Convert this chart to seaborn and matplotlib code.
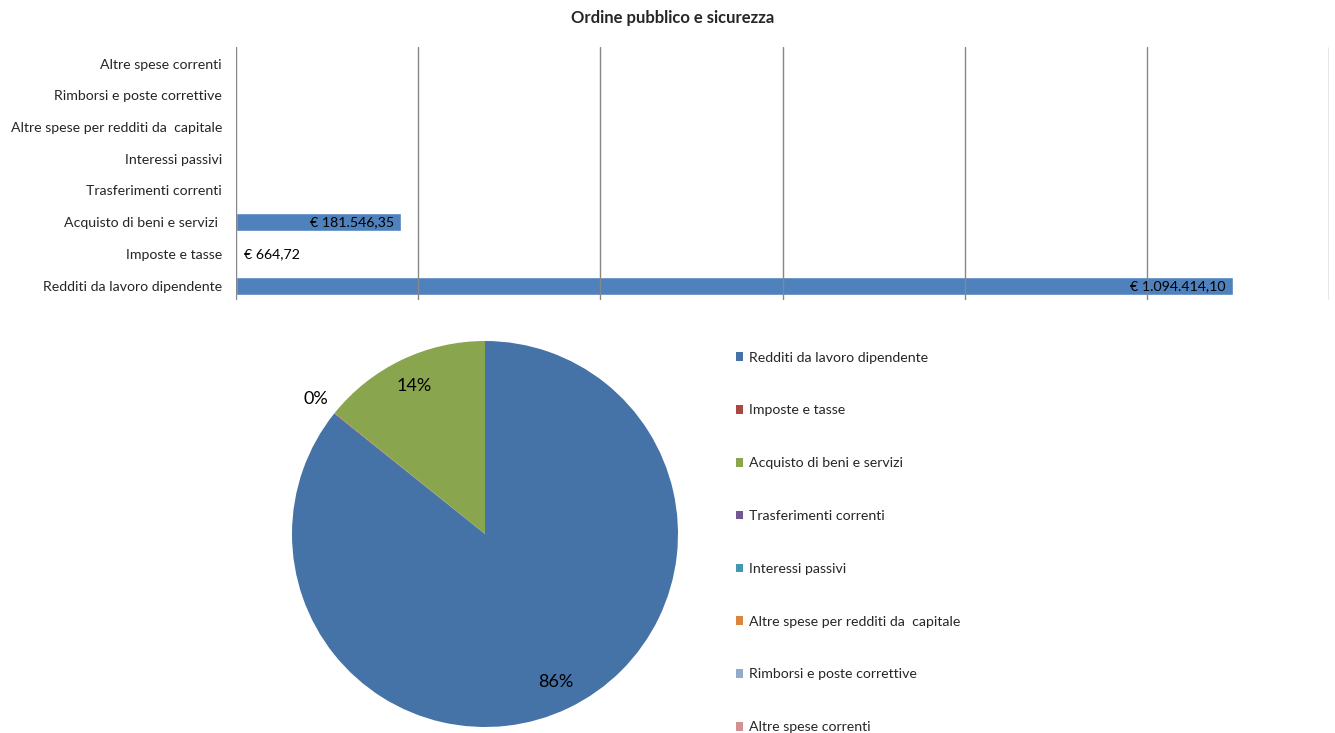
import matplotlib
matplotlib.use("Agg")
import matplotlib.pyplot as plt
import seaborn as sns
import pandas as pd
import numpy as np

# Spending categories, listed top-to-bottom as in the bar panel
categories = [
    "Altre spese correnti",
    "Rimborsi e poste correttive",
    "Altre spese per redditi da  capitale",
    "Interessi passivi",
    "Trasferimenti correnti",
    "Acquisto di beni e servizi ",
    "Imposte e tasse",
    "Redditi da lavoro dipendente",
]
values = [0.0, 0.0, 0.0, 0.0, 0.0, 181546.35, 664.72, 1094414.10]

# Pie / legend order
pie_categories = [
    "Redditi da lavoro dipendente",
    "Imposte e tasse",
    "Acquisto di beni e servizi",
    "Trasferimenti correnti",
    "Interessi passivi",
    "Altre spese per redditi da  capitale",
    "Rimborsi e poste correttive",
    "Altre spese correnti",
]
pie_values = [1094414.10, 664.72, 181546.35, 0.0, 0.0, 0.0, 0.0, 0.0]
pie_colors = ["#4572A7", "#AA4643", "#89A54E", "#71588F",
              "#4198AF", "#DB843D", "#93A9CF", "#D19392"]

title = "Ordine pubblico e sicurezza"
bar_color = "#4F81BD"

sns.set_style("white")
plt.rcParams["font.family"] = ["Lato", "DejaVu Sans"]
FS = 10.2

W, H = 1335, 733
fig = plt.figure(figsize=(W / 100, H / 100), dpi=100)

def frac(x0, y0, x1, y1):
    return [x0 / W, 1 - y1 / H, (x1 - x0) / W, (y1 - y0) / H]

# ---- horizontal bar panel ----
ax = fig.add_axes(frac(236, 47, 1329, 300))
df = pd.DataFrame({"cat": categories, "val": values})
sns.barplot(data=df, y="cat", x="val", orient="h", color=bar_color,
            saturation=1, width=0.56, ax=ax)
ax.set_xlim(0, 1_200_000)
ax.set_ylim(7.45, -0.52)
ax.set_xticks(np.arange(0, 1_200_001, 200_000))
ax.set_xticklabels([])
ax.grid(axis="x", color="#878787", linewidth=1.0)
ax.grid(axis="y", visible=False)
ax.set_axisbelow(False)
for s in ax.spines.values():
    s.set_visible(False)
ax.tick_params(axis="both", length=0)
ax.tick_params(axis="y", labelsize=FS, pad=10)
ax.set_xlabel("")
ax.set_ylabel("")


def euro(v):
    s = f"{v:,.2f}"
    s = s.replace(",", "X").replace(".", ",").replace("X", ".")
    return "€ " + s

for i, v in enumerate(values):
    if v <= 0:
        continue
    if v > 50_000:
        ax.text(v - 8000, i, euro(v), ha="right", va="center",
                fontsize=FS, color="black")
    else:
        ax.text(v + 8000, i, euro(v), ha="left", va="center",
                fontsize=FS, color="black")

fig.text(673 / W, 1 - 18 / H, title, ha="center", va="center",
         fontsize=12, fontweight="bold")

# ---- pie panel ----
r = 193
pax = fig.add_axes(frac(485 - r, 534 - r, 485 + r, 534 + r))
wedges, texts, autotexts = pax.pie(
    pie_values, colors=pie_colors, startangle=90, counterclock=False,
    autopct="%1.0f%%", pctdistance=0.85, radius=1.0,
    wedgeprops=dict(linewidth=0),
    textprops=dict(fontsize=13, color="black"))
pax.set_xlim(-1, 1)
pax.set_ylim(-1, 1)
pax.set_aspect("equal")
total = sum(pie_values)
for t, v in zip(autotexts, pie_values):
    if v == 0:
        t.set_visible(False)
    elif v / total < 0.01:
        x, y = t.get_position()
        t.set_position((x * 1.32, y * 1.32))

leg = fig.legend(wedges, pie_categories, loc="upper left",
                 bbox_to_anchor=(730 / W, 1 - 346 / H), frameon=False,
                 fontsize=FS, handlelength=0.55, handleheight=0.55,
                 handletextpad=0.4, labelspacing=2.88, borderaxespad=0)

fig.savefig("out.png", dpi=100, facecolor="white")
